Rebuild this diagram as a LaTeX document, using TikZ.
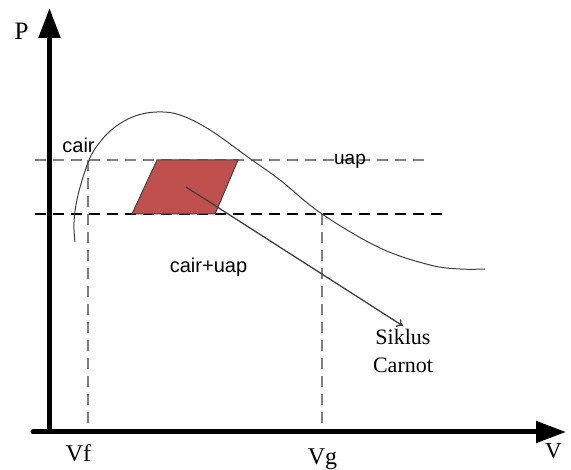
\documentclass[tikz,border=0pt]{standalone}
\usepackage{fontspec}
\setmainfont{Liberation Serif}
\setsansfont{Liberation Sans}
\usetikzlibrary{arrows.meta}
\definecolor{cyclered}{RGB}{192,80,77}
\definecolor{guidegray}{RGB}{128,128,128}
\definecolor{curvegray}{RGB}{64,64,64}

\begin{document}
\begin{tikzpicture}[x=1pt,y=-1pt,
  axis/.style={line width=5pt,-{Triangle[length=30pt,width=21pt]}},
  guide/.style={draw=guidegray,line width=2pt,dash pattern=on 11pt off 7pt},
  guideblack/.style={draw=black,line width=1.5pt,dash pattern=on 11pt off 7pt},
  seriflbl/.style={inner sep=0pt,anchor=base,font=\fontsize{24}{28}\selectfont},
  sanslbl/.style={inner sep=0pt,anchor=base,font=\sffamily\fontsize{20}{24}\selectfont}]
\useasboundingbox (0,0) rectangle (571,470);
% axes
\coordinate (origin) at (49.5,432);
\coordinate (ptop) at (49.5,8);
\coordinate (xleft) at (33,432);
\coordinate (vright) at (566,432);
% guide lines
\coordinate (upl) at (35,160);
\coordinate (upr) at (428,160);
\coordinate (lowl) at (35,214);
\coordinate (lowr) at (443,214);
\coordinate (vftop) at (88,160);
\coordinate (vfbot) at (88,432);
\coordinate (vgtop) at (322,214);
\coordinate (vgbot) at (322,432);
\draw[guide] (upl)--(upr);
\draw[guideblack] (lowl)--(lowr);
\draw[guide] (vftop)--(vfbot);
\draw[guide] (vgtop)--(vgbot);
% cycle
\coordinate (c1) at (132,214);
\coordinate (c2) at (157,160);
\coordinate (c3) at (238,160);
\coordinate (c4) at (215,214);
\filldraw[fill=cyclered,draw=black!75,line width=1pt] (c1)--(c2)--(c3)--(c4)--cycle;
% saturation curve
\draw[curvegray,line width=1pt] plot[smooth,tension=0.6] coordinates {(75,242) (74,222) (78,195) (89,160) (100,142) (115,127) (135,116) (157,112) (180,115) (210,130) (252,160) (280,180) (322,214) (380,248) (430,265) (460,269) (485,269)};
\draw[line cap=round,line width=5pt] (xleft)--(origin);
\draw[axis] (origin)--(ptop);
\draw[axis] (origin)--(vright);
% labels
\node[seriflbl,font=\fontsize{25}{28}\selectfont] (plbl) at (21.5,40) {P};
\node[seriflbl] (vflbl) at (78.5,462) {Vf};
\node[seriflbl] (vglbl) at (322.5,465) {Vg};
\node[seriflbl,font=\fontsize{23}{28}\selectfont] (vlbl) at (553.5,459) {V};
\node[sanslbl] (cairlbl) at (78.5,153) {cair};
\node[sanslbl,font=\sffamily\fontsize{19}{24}\selectfont] (uaplbl) at (350,165) {uap};
\node[sanslbl] (mixlbl) at (208.5,273) {cair+uap};
\node[inner sep=3pt,anchor=north,align=center,font=\fontsize{22}{28}\selectfont] (carnot) at (403,326) {Siklus\\Carnot};
\coordinate (cyclemid) at (186,187);
\draw[curvegray,line width=1.3pt,-{To[length=6pt,width=9pt]}] (cyclemid)--(carnot.north);
\end{tikzpicture}
\end{document}
